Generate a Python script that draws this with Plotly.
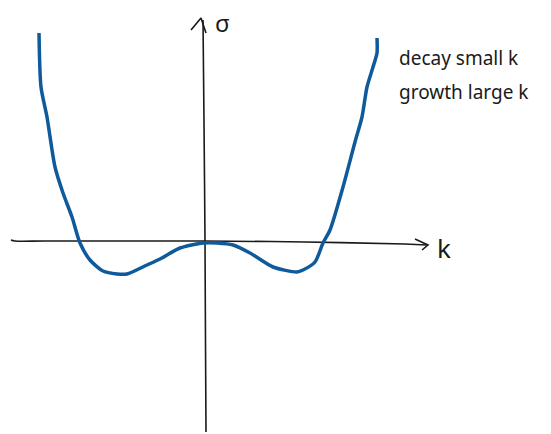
import plotly.graph_objects as go

# Sketch of a dispersion relation sigma(k): decay at small k, growth at large k
k = [-1.66, -1.64, -1.58, -1.50, -1.42, -1.33, -1.25, -1.15, -1.02, -0.88,
     -0.78, -0.58, -0.45, -0.25, -0.02, 0.12, 0.28, 0.45, 0.68, 0.92, 0.98,
     1.10, 1.18, 1.25, 1.38, 1.50, 1.57, 1.62, 1.68, 1.72, 1.72]
sigma = [2.09, 1.55, 1.25, 0.75, 0.49, 0.25, -0.01, -0.18, -0.29, -0.32,
         -0.32, -0.23, -0.17, -0.06, -0.01, -0.01, -0.03, -0.11, -0.25, -0.30, -0.28,
         -0.20, -0.01, 0.12, 0.55, 1.00, 1.25, 1.55, 1.75, 1.89, 2.04]

# hand-drawn axes with slight wobble
k_axis_x = [-1.94, -1.90, -1.60, -0.80, 0.0, 1.00, 2.00, 2.22]
k_axis_y = [0.02, 0.01, 0.01, 0.01, 0.01, 0.00, -0.02, -0.03]
s_axis_x = [0.01, 0.005, 0.0, -0.01, -0.02]
s_axis_y = [-1.90, -1.00, 0.00, 1.20, 2.22]

k_head_x = [2.10, 2.23, 2.17]
k_head_y = [0.03, -0.03, -0.08]
s_head_x = [-0.14, -0.04, 0.01]
s_head_y = [2.12, 2.24, 2.09]

ink = "#1a1a1a"
blue = "#0e5a9a"

fig = go.Figure()
fig.add_trace(go.Scatter(x=k_axis_x, y=k_axis_y, mode="lines",
                         line=dict(color=ink, width=1.6, shape="spline")))
fig.add_trace(go.Scatter(x=s_axis_x, y=s_axis_y, mode="lines",
                         line=dict(color=ink, width=1.6, shape="spline")))
fig.add_trace(go.Scatter(x=k_head_x, y=k_head_y, mode="lines",
                         line=dict(color=ink, width=1.6)))
fig.add_trace(go.Scatter(x=s_head_x, y=s_head_y, mode="lines",
                         line=dict(color=ink, width=1.6)))
fig.add_trace(go.Scatter(x=k, y=sigma, mode="lines",
                         line=dict(color=blue, width=3.5, shape="spline", smoothing=0.7)))

hand = "Noto Sans"
fig.add_annotation(x=0.08, y=2.20, text="σ", showarrow=False,
                   xanchor="left", yanchor="middle",
                   font=dict(family=hand, size=24, color=ink))
fig.add_annotation(x=2.30, y=-0.06, text="k", showarrow=False,
                   xanchor="left", yanchor="middle",
                   font=dict(family=hand, size=26, color=ink))
fig.add_annotation(x=1.92, y=1.84, text="decay small k", showarrow=False,
                   xanchor="left", yanchor="middle",
                   font=dict(family=hand, size=19, color=ink))
fig.add_annotation(x=1.92, y=1.50, text="growth large k", showarrow=False,
                   xanchor="left", yanchor="middle",
                   font=dict(family=hand, size=19, color=ink))

fig.update_layout(
    width=551, height=434,
    margin=dict(l=0, r=0, t=0, b=0),
    paper_bgcolor="white", plot_bgcolor="white",
    showlegend=False,
    xaxis=dict(range=[-2.05, 3.46], visible=False, fixedrange=True),
    yaxis=dict(range=[-1.92, 2.42], visible=False, fixedrange=True),
)

fig.write_html("out.html", config={"displayModeBar": False})
